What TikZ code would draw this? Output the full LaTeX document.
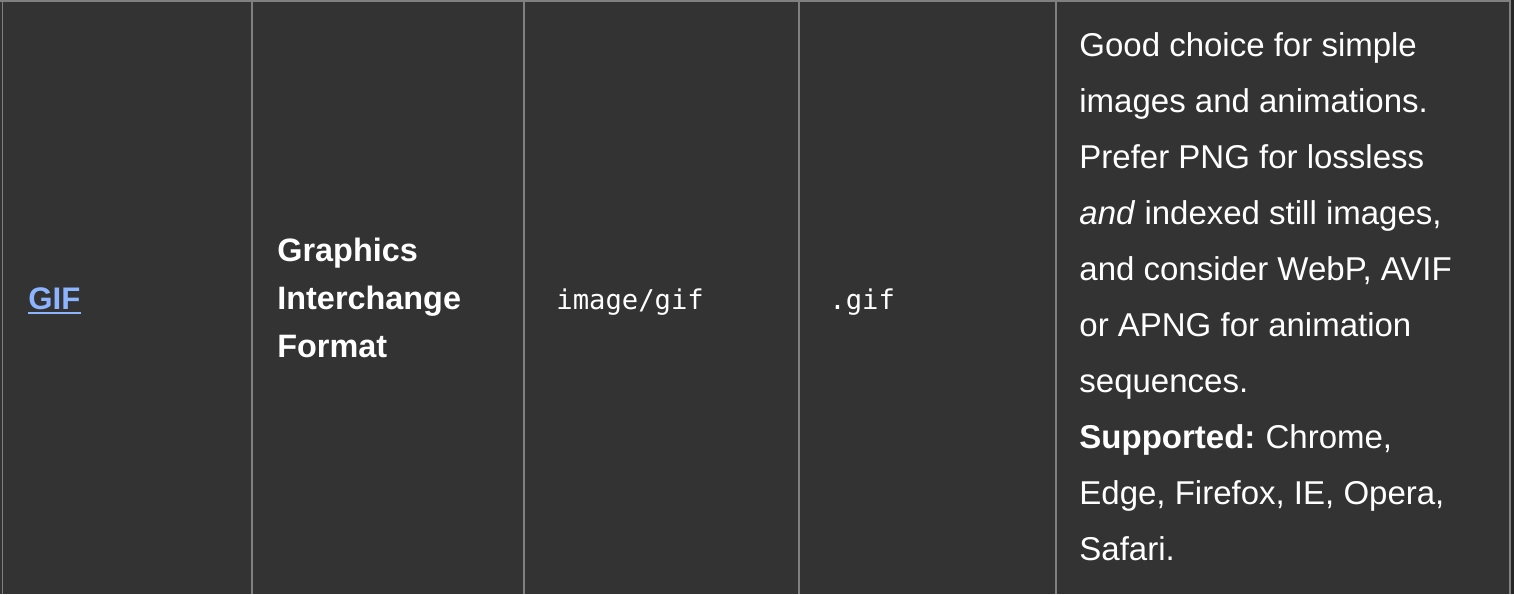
\documentclass[tikz,border=0pt]{standalone}
\usepackage{fontspec}
\setmainfont{Liberation Sans}
\setmonofont{DejaVu Sans Mono}

\definecolor{cellbg}{HTML}{333333}
\definecolor{rule}{HTML}{808080}
\definecolor{link}{HTML}{8CB4FF}

\tikzset{
	celltext/.style = {anchor = base west, inner sep = 0pt, text = white, font = \fontsize{16.5}{28}\selectfont},
	headtext/.style = {celltext, align = left, font = \fontsize{16.2}{24}\selectfont\bfseries},
	codetext/.style = {celltext, font = \fontsize{13.6}{24}\selectfont\ttfamily},
	desctext/.style = {celltext, align = left}
}

\begin{document}
\begin{tikzpicture}[x = 0.5pt, y = -0.5pt]

	% Cell background
	
	\fill [cellbg] (0, 0) rectangle (1514, 594);
	\fill [black!85] (1511, 0) rectangle (1514, 594);
	\useasboundingbox (0, 0) rectangle (1514, 594);
	
	% Borders
	
	\draw [rule, line width = 1pt] (0, 1) -- (1511, 1);
	\draw [rule, line width = 0.75pt] (2.5, 0) -- (2.5, 594);
	
	\foreach \x in {252, 524, 799, 1056, 1510}
	{
		\draw [rule, line width = 1pt] (\x, 0) -- (\x, 594);
	}
	
	% Cell texts (multi-line nodes sit on their last baseline)
	
	\node [celltext, text = link, font = \fontsize{15.6}{24}\selectfont\bfseries] (gif) at (28, 309) {GIF};
	\draw [link, line width = 1pt] ([yshift = -2pt] gif.base west) -- ([yshift = -2pt] gif.base east);
	
	\node [headtext] (fullname) at (277, 357) {Graphics\\Interchange\\Format};
	
	\node [codetext] (mimetype) at (556, 309) {image/gif};
	
	\node [codetext] (extension) at (829, 309) {.gif};
	
	\node [desctext] (notes) at (1079, 560) {Good choice for simple\\
		images and animations.\\
		Prefer PNG for lossless\\
		\textit{and} indexed still images,\\
		and consider WebP, AVIF\\
		or APNG for animation\\
		sequences.\\
		\textbf{Supported:}\hspace{-1pt} Chrome,\\
		Edge, Firefox, IE, Opera,\\
		Safari.};

\end{tikzpicture}
\end{document}
